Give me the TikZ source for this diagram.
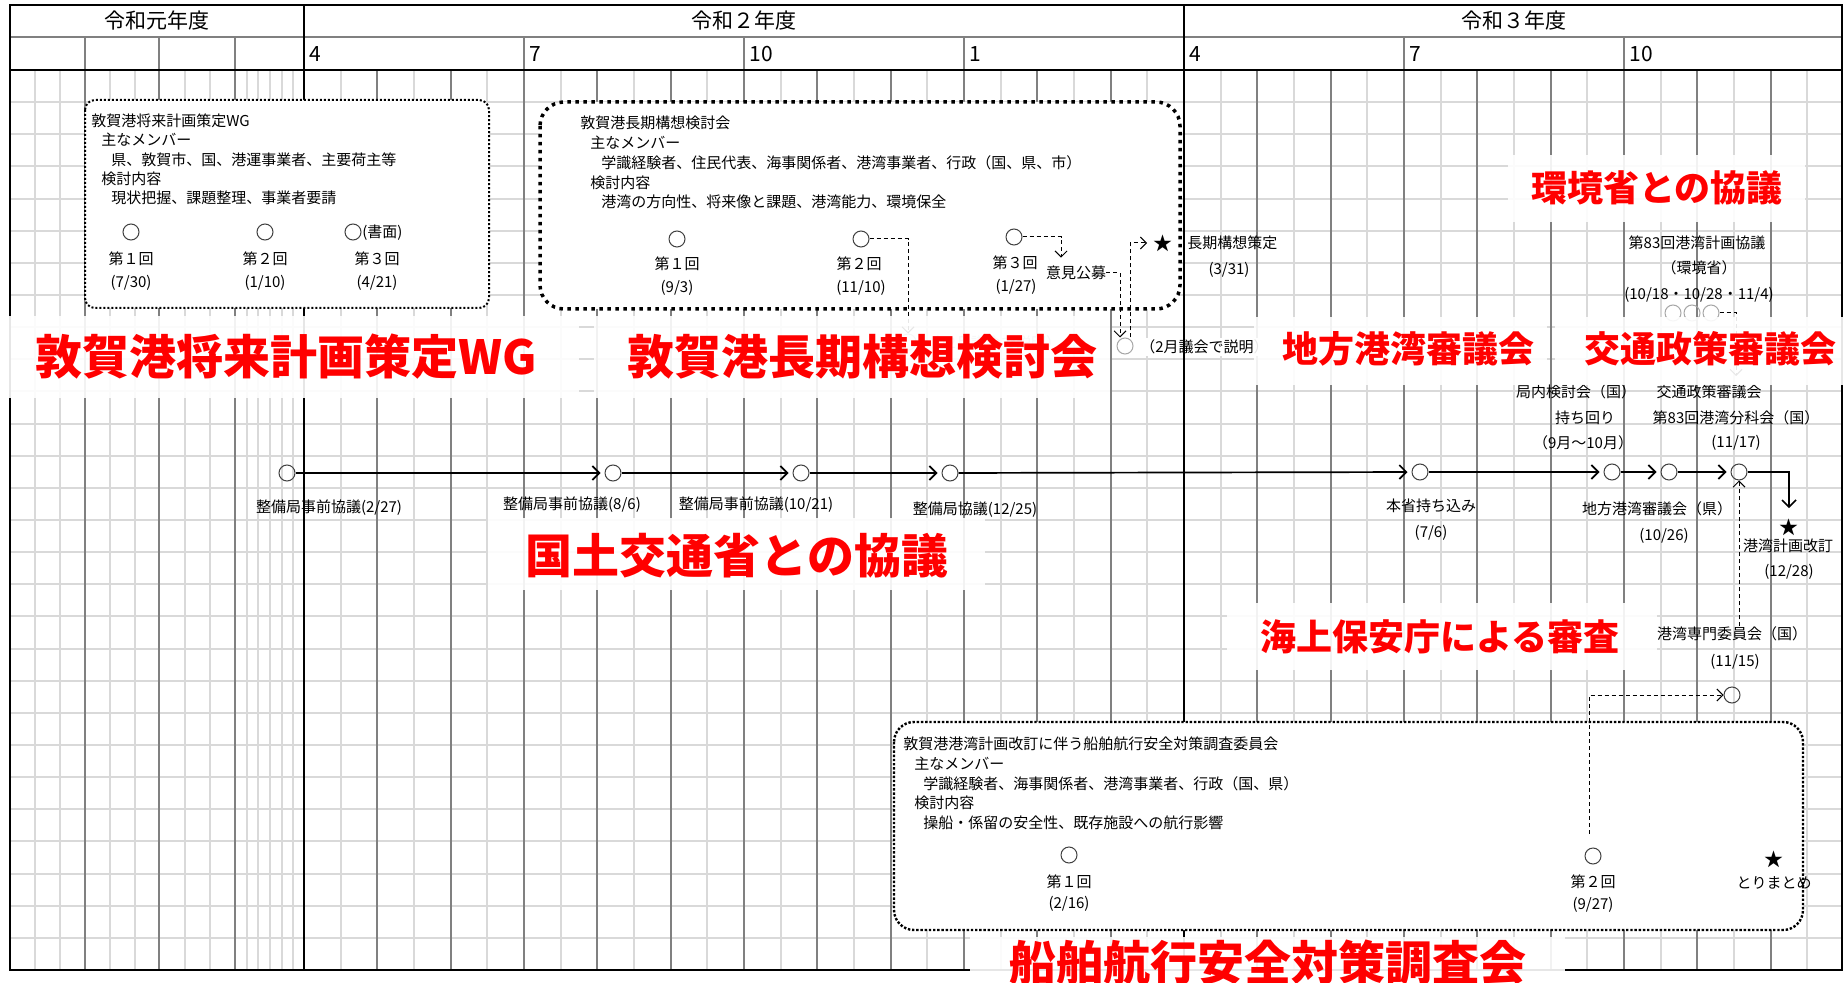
\documentclass[tikz,border=0pt]{standalone}
\usepackage{fontspec}
\setmainfont{Noto Sans CJK JP}
\usetikzlibrary{arrows.meta}
\definecolor{glight}{HTML}{D9D9D9}
\definecolor{gdark}{HTML}{808080}
\definecolor{cgray}{HTML}{404040}
\definecolor{cfaint}{HTML}{A6A6A6}
\definecolor{lred}{HTML}{FF0000}
\tikzset{
 gl/.style={glight, line width=1pt},
 gd/.style={gdark, line width=1pt},
 gb/.style={black, line width=1pt},
 txt/.style={inner sep=0pt, font=\fontsize{7.5}{9}\selectfont},
 hdr/.style={inner sep=0pt, font=\fontsize{10.5}{12}\selectfont},
 starnode/.style={inner sep=0pt, font=\fontsize{9.5}{10}\selectfont},
 evt/.style={circle, draw=cgray, line width=0.5pt, minimum size=8pt, inner sep=0pt},
 evtf/.style={evt, draw=cfaint},
 flow/.style={line width=0.85pt, -{Straight Barb[length=3.5pt,width=7pt]}, shorten >=2pt},
 dsh/.style={line width=0.5pt, dash pattern=on 2pt off 1.5pt, -{Straight Barb[length=3pt,width=6pt]}},
 boxA/.style={draw, fill=white, line width=1pt, dash pattern=on 1pt off 1pt, rounded corners=5pt},
 boxB/.style={draw, fill=white, line width=1.75pt, dash pattern=on 1.75pt off 2.25pt, rounded corners=12pt},
 boxC/.style={draw, fill=white, line width=1.2pt, dash pattern=on 1.2pt off 0.9pt, rounded corners=10pt},
 lbg/.style={fill=white, fill opacity=0.9},
 redbig/.style={inner sep=0pt, text=lred, font=\bfseries\fontsize{23.5}{26}\selectfont},
 redsm/.style={inner sep=0pt, text=lred, font=\bfseries\fontsize{18}{20}\selectfont},
}
\begin{document}
\begin{tikzpicture}[x=0.5pt, y=-0.5pt]
\useasboundingbox (0,0) rectangle (1845,983);
\fill[white] (0,0) rectangle (1845,983);
% ---------------- grid ----------------
\foreach \k in {1,...,27} \draw[gl] (10,{70+32.143*\k}) -- (1842,{70+32.143*\k});
\foreach \xx in {35,60,110,135,185,210,247,258,270,282,293} \draw[gl] (\xx,70) -- (\xx,970);
\foreach \k in {0,...,20} \draw[gl] ({340.67+73.333*\k},70) -- ({340.67+73.333*\k},970);
\foreach \xx in {85,159,235} \draw[gd] (\xx,37) -- (\xx,970);
\foreach \k in {1,2,3,4,5,6,7,8,9,10,11,13,14,15,16,17,18,19,20} \draw[gd] ({304+73.333*\k},70) -- ({304+73.333*\k},970);
\foreach \k in {3,6,9,15,18} \draw[gd] ({304+73.333*\k},37) -- ({304+73.333*\k},70);
\draw[gd] (10,37) -- (1842,37);
\draw[gb] (10,70) -- (1842,70);
\draw[gb] (304,5) -- (304,970);
\draw[gb] (1184,5) -- (1184,970);
\draw[gb] (10,5) rectangle (1842,970);
% header texts
\node[hdr] (y1) at (157,21) {令和元年度};
\node[hdr] (y2) at (744,21) {令和２年度};
\node[hdr] (y3) at (1514,21) {令和３年度};
\node[hdr, anchor=west] (mo1) at (309,54) {4};
\node[hdr, anchor=west] (mo2) at (529,54) {7};
\node[hdr, anchor=west] (mo3) at (749,54) {10};
\node[hdr, anchor=west] (mo4) at (969,54) {1};
\node[hdr, anchor=west] (mo5) at (1189,54) {4};
\node[hdr, anchor=west] (mo6) at (1409,54) {7};
\node[hdr, anchor=west] (mo7) at (1629,54) {10};
% ---------------- box 1 ----------------
\draw[boxA] (85,100) rectangle (489,308);
\node[txt, anchor=west] (a0) at (91,121) {敦賀港将来計画策定WG};
\node[txt, anchor=west] (a1) at (101,140) {主なメンバー};
\node[txt, anchor=west] (a2) at (111,160) {県、敦賀市、国、港運事業者、主要荷主等};
\node[txt, anchor=west] (a3) at (101,179) {検討内容};
\node[txt, anchor=west] (a4) at (111,198) {現状把握、課題整理、事業者要請};
\node[evt] (ac1) at (131,232) {};
\node[evt] (ac2) at (265,232) {};
\node[evt] (ac3) at (353,232) {};
\node[txt, anchor=west] (ac3t) at (362,233) {(書面)};
\node[txt] (al1) at (131,259) {第１回};
\node[txt] (ad1) at (131,283) {(7/30)};
\node[txt] (al2) at (265,259) {第２回};
\node[txt] (ad2) at (265,283) {(1/10)};
\node[txt] (al3) at (377,259) {第３回};
\node[txt] (ad3) at (377,283) {(4/21)};
% ---------------- box 2 ----------------
\draw[boxB] (540,102) rectangle (1180,309);
\node[txt, anchor=west] (b0) at (580,123) {敦賀港長期構想検討会};
\node[txt, anchor=west] (b1) at (590,143) {主なメンバー};
\node[txt, anchor=west] (b2) at (601,163) {学識経験者、住民代表、海事関係者、港湾事業者、行政（国、県、市）};
\node[txt, anchor=west] (b3) at (590,183) {検討内容};
\node[txt, anchor=west] (b4) at (601,202) {港湾の方向性、将来像と課題、港湾能力、環境保全};
\node[evt] (bc1) at (677,239) {};
\node[evt] (bc2) at (861,239) {};
\node[evt] (bc3) at (1014,237) {};
\node[txt] (bl1) at (677,264) {第１回};
\node[txt] (bd1) at (677,288) {(9/3)};
\node[txt] (bl2) at (859,264) {第２回};
\node[txt] (bd2) at (861,288) {(11/10)};
\node[txt] (bl3) at (1015,263) {第３回};
\node[txt] (bd3) at (1016,287) {(1/27)};
\node[txt] (kobo) at (1076,273) {意見公募};
\node[starnode] (star1) at (1163,243) {★};
\node[txt, anchor=west] (chouki) at (1187,243) {長期構想策定};
\node[txt] (choukid) at (1229,270) {(3/31)};
\node[evtf] (c12) at (908,342) {};
\node[txt, anchor=west, text=cfaint] (t12) at (924,343) {（12月議会で説明）};
\node[evtf] (c2g) at (1125,346) {};
\node[txt, anchor=west, fill=white, inner sep=1pt] (t2g) at (1138,347) {（2月議会で説明）};
\draw[gb] (1184,330) -- (1184,365);
\draw[dsh] (bc2.east) -| (c12.north);
\draw[dsh, shorten >=4pt] (bc3.east) -| ([xshift=-7.5pt]kobo.north);
\draw[dsh] (kobo.east) -| ([xshift=-2.5pt]c2g.north);
\draw[dsh, shorten >=3pt] ([xshift=2.5pt]c2g.north) |- (star1.west);
% ---------------- environment ----------------
\node[txt] (env0) at (1697,243) {第83回港湾計画協議};
\node[txt] (env1) at (1699,268) {（環境省）};
\node[txt] (env2) at (1699,295) {(10/18・10/28・11/4)};
\node[evtf] (ec1) at (1673,313) {};
\node[evtf] (ec2) at (1692,313) {};
\node[evtf] (ec3) at (1711,313) {};
\coordinate (envend) at (1736,376);
\draw[dsh] (ec3.east) -| (envend);
% ---------------- main row ----------------
\node[evt] (m1) at (287,473) {};
\node[evt] (m2) at (613,473) {};
\node[evt] (m3) at (801,473) {};
\node[evt] (m4) at (950,473) {};
\node[evt] (m5) at (1420,472) {};
\node[evt] (m6) at (1612,472) {};
\node[evt] (m7) at (1669,472) {};
\node[evt] (m8) at (1739,472) {};
\node[starnode] (star2) at (1789,527) {★};
\draw[flow] (m1) -- (m2);
\draw[flow] (m2) -- (m3);
\draw[flow] (m3) -- (m4);
\draw[flow] (m4) -- (m5);
\draw[flow] (m5) -- (m6);
\draw[flow] (m6) -- (m7);
\draw[flow] (m7) -- (m8);
\draw[flow, shorten >=5pt] (m8.east) -| (star2.north);
\node[txt] (ml1) at (329,508) {整備局事前協議(2/27)};
\node[txt] (ml2) at (572,505) {整備局事前協議(8/6)};
\node[txt] (ml3) at (756,505) {整備局事前協議(10/21)};
\node[txt] (ml4) at (975,510) {整備局協議(12/25)};
\node[txt] (ml5) at (1431,506) {本省持ち込み};
\node[txt] (md5) at (1431,533) {(7/6)};
\node[txt] (ml6a) at (1576,392) {局内検討会（国）};
\node[txt] (ml6b) at (1585,418) {持ち回り};
\node[txt] (md6) at (1583,443) {（9月～10月）};
\node[txt] (ml7) at (1657,509) {地方港湾審議会（県）};
\node[txt] (md7) at (1664,536) {(10/26)};
\node[txt] (ml8a) at (1709,392) {交通政策審議会};
\node[txt] (ml8b) at (1736,418) {第83回港湾分科会（国）};
\node[txt] (md8) at (1736,443) {(11/17)};
\node[txt] (ml9) at (1788,546) {港湾計画改訂};
\node[txt] (md9) at (1789,572) {(12/28)};
% ---------------- coast guard ----------------
\node[txt] (senmon) at (1732,634) {港湾専門委員会（国）};
\node[txt] (senmond) at (1735,662) {(11/15)};
\node[evt] (cg) at (1732,695) {};
\draw[dsh] (m8.south |- senmon.north) -- (m8.south);
% ---------------- box 3 ----------------
\draw[boxC] (894,722) rectangle (1803,930);
\node[txt, anchor=west] (d0) at (903,744) {敦賀港港湾計画改訂に伴う船舶航行安全対策調査委員会};
\node[txt, anchor=west] (d1) at (914,764) {主なメンバー};
\node[txt, anchor=west] (d2) at (923,784) {学識経験者、海事関係者、港湾事業者、行政（国、県）};
\node[txt, anchor=west] (d3) at (914,803) {検討内容};
\node[txt, anchor=west] (d4) at (923,823) {操船・係留の安全性、既存施設への航行影響};
\node[evt] (dc1) at (1069,855) {};
\node[evt] (dc2) at (1593,856) {};
\node[txt] (dl1) at (1069,882) {第１回};
\node[txt] (dd1) at (1069,904) {(2/16)};
\node[txt] (dl2) at (1593,882) {第２回};
\node[txt] (dd2) at (1593,905) {(9/27)};
\node[starnode] (star3) at (1774,859) {★};
\node[txt] (dl3) at (1774,883) {とりまとめ};
\draw[dsh, shorten <=7pt] ([xshift=-2pt]dc2.north) |- (cg.west);
% ---------------- red labels ----------------
\fill[lbg] (9,316) rectangle (579,398);
\node[redbig] (r1) at (286,357) {敦賀港将来計画策定WG};
\fill[lbg] (594,316) rectangle (1110,398);
\node[redbig] (r2) at (862,357) {敦賀港長期構想検討会};
\fill[lbg] (488,518) rectangle (985,590);
\node[redbig] (r3) at (737,556) {国土交通省との協議};
\fill[lbg] (1508,155) rectangle (1805,222);
\node[redsm] (r4) at (1657,188) {環境省との協議};
\fill[lbg] (1254,317) rectangle (1547,385);
\node[redsm] (r5) at (1408,349) {地方港湾審議会};
\fill[lbg] (1555,317) rectangle (1845,385);
\node[redsm] (r6) at (1710,349) {交通政策審議会};
\fill[lbg] (1227,603) rectangle (1657,670);
\node[redsm] (r7) at (1440,637) {海上保安庁による審査};
\fill[lbg] (970,937) rectangle (1565,983);
\node[redbig] (r8) at (1268,963) {船舶航行安全対策調査会};
\end{tikzpicture}
\end{document}
